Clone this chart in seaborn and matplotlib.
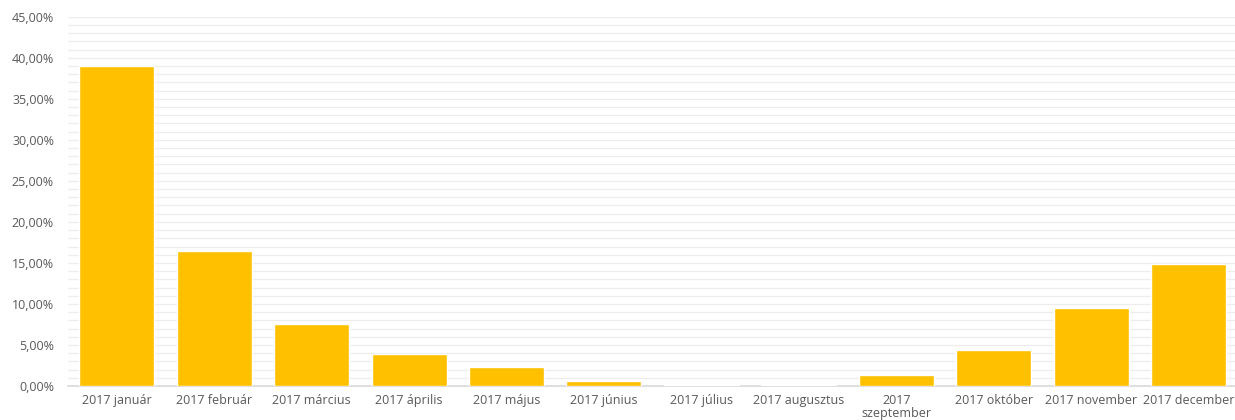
import matplotlib
matplotlib.use('Agg')
import matplotlib.pyplot as plt
import seaborn as sns
import pandas as pd
from matplotlib.ticker import MultipleLocator, FuncFormatter

# data (percent)
months = ['2017 január', '2017 február', '2017 március', '2017 április', '2017 május',
          '2017 június', '2017 július', '2017 augusztus', '2017\nszeptember',
          '2017 október', '2017 november', '2017 december']
shares = [39.0, 16.5, 7.55, 3.9, 2.3, 0.6, 0.12, 0.12, 1.35, 4.4, 9.5, 14.9]

df = pd.DataFrame({'honap': months, 'arany': shares})

sns.set_theme(style="white")
plt.rcParams['font.family'] = ['Open Sans', 'DejaVu Sans']

fig = plt.figure(figsize=(12.35, 4.2), dpi=100)
ax = fig.add_axes([0.055, 0.081, 0.947, 0.879])

sns.barplot(data=df, x='honap', y='arany', color='#FFC000', saturation=1,
            width=0.77, ax=ax, zorder=3)

ax.set_ylim(0, 45)
ax.set_xlim(-0.5, 11.5)
ax.yaxis.set_major_locator(MultipleLocator(5))
ax.yaxis.set_minor_locator(MultipleLocator(1))
ax.yaxis.set_major_formatter(FuncFormatter(lambda v, p: f"{v:.2f}%".replace('.', ',')))
ax.grid(axis='y', which='both', color='#EDEDED', linewidth=0.9, zorder=0)
ax.set_axisbelow(True)

for s in ['top', 'right', 'left']:
    ax.spines[s].set_visible(False)
ax.spines['bottom'].set_color('#D9D9D9')
ax.spines['bottom'].set_linewidth(1.2)

ax.tick_params(axis='both', which='both', length=0, colors='#595959', labelsize=9)
ax.tick_params(axis='y', pad=10)
ax.tick_params(axis='x', pad=6)
for lbl in ax.get_xticklabels():
    lbl.set_linespacing(0.95)
ax.set_xlabel('')
ax.set_ylabel('')

fig.savefig('out.png', dpi=100)
